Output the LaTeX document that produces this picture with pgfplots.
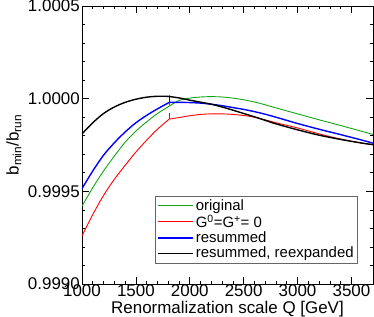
\documentclass[border=0pt]{standalone}
\usepackage{fontspec}
\setmainfont{Liberation Sans}
\usepackage{pgfplots}
\pgfplotsset{compat=1.18}
\definecolor{cgreen}{RGB}{20,165,20}
\definecolor{cred}{RGB}{255,0,0}
\definecolor{cblue}{RGB}{0,0,255}
\begin{document}
\begin{tikzpicture}
\path[use as bounding box] (-82bp,-33bp) rectangle (292bp,284bp);
\begin{axis}[
  at={(0,0)}, anchor=south west,
  scale only axis, width=291bp, height=278bp,
  xmin=1000, xmax=3700, ymin=0.999, ymax=1.0005,
  xtick={1000,1500,2000,2500,3000,3500},
  ytick={0.999,0.9995,1,1.0005},
  minor x tick num=4, minor y tick num=4,
  tick pos=both, tick align=inside,
  major tick length=7bp, minor tick length=3.5bp,
  tick style={black, line width=0.6bp},
  axis line style={black, line width=0.8bp},
  /pgf/number format/assume math mode=true,
  xticklabel style={/pgf/number format/1000 sep={}, font=\fontsize{17}{20}\selectfont, inner sep=0.5bp},
  yticklabel style={/pgf/number format/.cd, fixed, fixed zerofill, precision=4, /tikz/.cd, font=\fontsize{17}{20}\selectfont, inner sep=2bp},
  scaled y ticks=false,
  xlabel={Renormalization scale Q [GeV]},
  ylabel={b\textsubscript{min}/b\textsubscript{run}},
  xlabel style={at={(axis description cs:0.5,0)}, anchor=base, yshift=-29.5bp, font=\fontsize{17}{20}\selectfont},
  ylabel style={at={(axis description cs:-0.234,0.5)}, anchor=center, font=\fontsize{17}{20}\selectfont},
  legend style={at={(axis description cs:0.948,0.0755)}, anchor=south east, draw=black!60, font=\fontsize{15}{17}\selectfont, inner xsep=2bp, inner ysep=1.5bp, row sep=-1bp},
  legend cell align=left,
  legend image code/.code={\draw[#1] (-3bp,0bp) -- (32bp,0bp);},
]
\addlegendimage{cgreen, line width=1.3bp}
\addlegendentry{original}
\addlegendimage{cred, line width=1.3bp}
\addlegendentry{G\textsuperscript{0}=G\textsuperscript{+}= 0}
\addlegendimage{cblue, line width=1.3bp}
\addlegendentry{resummed}
\addlegendimage{black, line width=1.3bp}
\addlegendentry{resummed, reexpanded}
% original
\addplot[cgreen, line width=0.9bp, smooth, forget plot] coordinates {
(1000,0.99942) (1100,0.99952) (1200,0.99961) (1300,0.99969) (1400,0.999765)
(1500,0.999825) (1600,0.999875) (1700,0.99992) (1810,0.99996)};
\addplot[cgreen, line width=0.9bp, smooth, forget plot] coordinates {
(1810,0.99996) (1900,0.99999) (2000,1.000003) (2100,1.000009) (2200,1.000011)
(2300,1.000009) (2400,1.000003) (2500,0.999994) (2600,0.999982) (2700,0.999967)
(2800,0.99995) (3000,0.999918) (3200,0.999886) (3400,0.999855) (3600,0.999823)
(3700,0.999807)};
\addplot[cgreen, line width=0.9bp, forget plot] coordinates {(1810,0.99996) (1810,1.00002)};
% G0=G+=0
\addplot[cred, line width=0.9bp, smooth, forget plot] coordinates {
(1000,0.99926) (1100,0.999375) (1200,0.999478) (1300,0.999565) (1400,0.99964)
(1500,0.999712) (1600,0.999776) (1700,0.999835) (1810,0.99989)};
\addplot[cred, line width=0.9bp, smooth, forget plot] coordinates {
(1810,0.99989) (1900,0.999898) (2000,0.999908) (2100,0.999915) (2200,0.999918)
(2300,0.999918) (2400,0.999915) (2500,0.999909) (2600,0.9999) (2700,0.999886)
(2800,0.99987) (3000,0.999842) (3200,0.99981) (3400,0.999782) (3600,0.99976)
(3700,0.999752)};
\addplot[cred, line width=0.9bp, forget plot] coordinates {(1810,0.99989) (1810,0.999925)};
% resummed
\addplot[cblue, line width=1.4bp, smooth, forget plot] coordinates {
(1000,0.999515) (1100,0.99961) (1200,0.999695) (1300,0.999762) (1400,0.99982)
(1500,0.99987) (1600,0.99991) (1700,0.999945) (1810,0.99998)};
\addplot[cblue, line width=1.4bp, smooth, forget plot] coordinates {
(1810,0.99998) (1900,0.99998) (2000,0.999979) (2100,0.999976) (2200,0.99997)
(2300,0.999962) (2400,0.999952) (2500,0.999942) (2600,0.99993) (2700,0.999916)
(2800,0.9999) (3000,0.999866) (3200,0.999835) (3400,0.999806) (3600,0.999776)
(3700,0.99976)};
\addplot[cblue, line width=1.4bp, forget plot] coordinates {(1810,0.99998) (1810,1.000008)};
% resummed, reexpanded
\addplot[black, line width=1.4bp, smooth, forget plot] coordinates {
(1000,0.99981) (1100,0.99987) (1200,0.99992) (1300,0.999955) (1400,0.99998)
(1500,0.999997) (1600,1.000008) (1700,1.000013) (1800,1.000012) (1900,1.000004)
(2000,0.999992) (2100,0.999981) (2200,0.99997) (2300,0.999955) (2400,0.999938)
(2500,0.99992) (2600,0.999902) (2700,0.999883) (2800,0.999864) (3000,0.999832)
(3200,0.999803) (3400,0.99978) (3600,0.99976) (3700,0.999752)};
\end{axis}
\end{tikzpicture}
\end{document}
